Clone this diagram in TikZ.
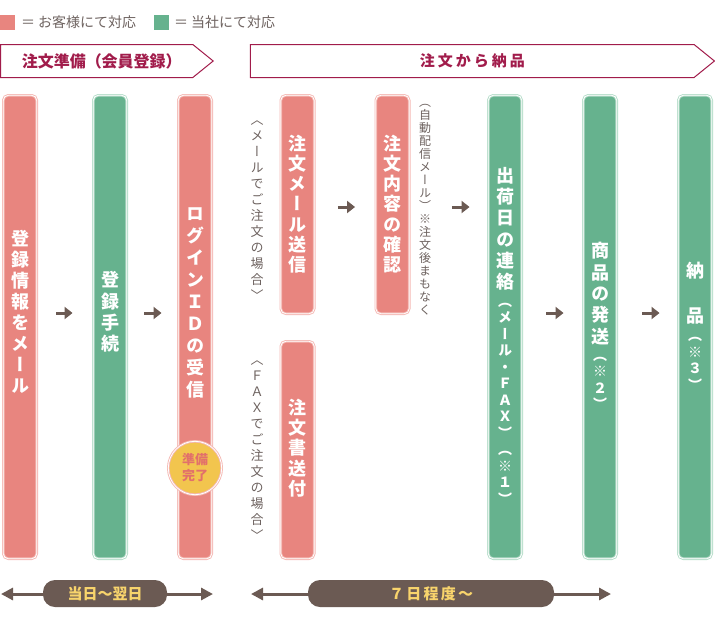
\documentclass[tikz,border=0pt]{standalone}
\usepackage{fontspec}
\setmainfont{Noto Sans CJK JP}
\newfontfamily\tatefont[RawFeature=+vert]{Noto Sans CJK JP}
\usetikzlibrary{arrows.meta,shapes.symbols}

\definecolor{barpink}{HTML}{E8857F}
\definecolor{pinkedge}{HTML}{F4B9B4}
\definecolor{bargreen}{HTML}{66B28E}
\definecolor{greenedge}{HTML}{B6DDCA}
\definecolor{arrowbrown}{HTML}{6B5A53}
\definecolor{notegray}{HTML}{6D625F}
\definecolor{phasered}{HTML}{A11C4B}
\definecolor{readygold}{HTML}{F2C54E}
\definecolor{readytext}{HTML}{E2706B}
\definecolor{pilltext}{HTML}{F8D46C}

% vertical text: one cell per character
\ExplSyntaxOn
\dim_new:N \l_tate_pitch_dim
\NewDocumentCommand \tate { O{18} m m }
  {
    \vbox:n
      {
        \offinterlineskip
        \tatefont \fontsize{#1}{#1}\selectfont
        \XeTeXuseglyphmetrics = 0 \scan_stop:
        \dim_set:Nn \l_tate_pitch_dim {#2}
        \tl_map_inline:nn {#3}
          {
            \vbox_to_ht:nn { \l_tate_pitch_dim }
              { \vss \hbox_to_wd:nn { 22pt } { \hss ##1 \hss } \vss }
          }
      }
  }
\ExplSyntaxOff

\tikzset{
  bar/.style={rounded corners=5pt, line width=0.9pt, double distance=0.8pt,
    minimum width=33.4pt, inner sep=0pt},
  pinkbar/.style={bar, fill=barpink, draw=pinkedge, double=white},
  greenbar/.style={bar, fill=bargreen, draw=greenedge, double=white},
  bartext/.style={text=white, font=\bfseries, inner sep=0pt},
  note/.style={text=notegray, inner sep=0pt},
  flow/.style={draw=arrowbrown, line width=3pt, -{Triangle[length=8pt,width=12pt]}},
  span/.style={draw=arrowbrown, line width=3pt,
    {Triangle[length=12pt,width=12pt]}-{Triangle[length=12pt,width=12pt]}},
  pill/.style={fill=arrowbrown, rounded corners=12pt, minimum height=27pt,
    inner sep=0pt, text=pilltext, font=\bfseries\fontsize{15}{15}\selectfont},
  phase/.style={signal, signal to=east, signal pointer angle=78, draw=phasered,
    line width=1pt, minimum height=33pt, inner sep=0pt, text=phasered,
    font=\bfseries\fontsize{15}{15}\selectfont},
  key/.style={minimum size=15pt, inner sep=0pt},
  keytext/.style={anchor=west, text=notegray, inner sep=0pt,
    font=\fontsize{14}{14}\selectfont},
}

\begin{document}
\begin{tikzpicture}[x=1pt,y=-1pt]
    \useasboundingbox (0,0) rectangle (715,622);

    % Legend
    \node[key, fill=barpink] (keycust) at (7.5,22) {};
    \node[keytext] (keycusttxt) at (21,22) {＝\hspace{3pt}お客様にて対応};
    \node[key, fill=bargreen] (keyus) at (161.5,22) {};
    \node[keytext] (keyustxt) at (174,22) {＝\hspace{3pt}当社にて対応};

    % Phase headers
    \node[phase, minimum width=212.5pt] (prep) at (96.75,61)
        {\fontsize{16}{16}\selectfont\hspace*{10pt}注文準備（会員登録）};
    \node[phase, minimum width=464pt] (order) at (472.25,61)
        {\addfontfeature{LetterSpace=20}注文から納品};

    % Bars
    \node[pinkbar, minimum height=463.4pt] (reg) at (20,327) {};
    \node[greenbar, minimum height=463.4pt] (proc) at (110,327) {};
    \node[pinkbar, minimum height=463.4pt] (login) at (195,327) {};
    \node[pinkbar, minimum height=218.4pt] (mail) at (297.5,204.5) {};
    \node[pinkbar, minimum height=217.4pt] (fax) at (297.5,450) {};
    \node[pinkbar, minimum height=218.4pt] (confirm) at (392.5,204.5) {};
    \node[greenbar, minimum height=463.4pt] (ship) at (505,327) {};
    \node[greenbar, minimum height=463.4pt] (send) at (600,327) {};
    \node[greenbar, minimum height=463.4pt] (deliver) at (695,327) {};

    % Bar texts
    \node[bartext] (regtxt) at (20,311) {\tate{21.1pt}{登録情報をメール}};
    \node[bartext] (proctxt) at (110,311) {\tate{21.3pt}{登録手続}};
    \node[bartext] (logintxt) at (195,301) {\tate{22pt}{ログインＩＤの受信}};
    \node[bartext] (mailtxt) at (297.5,203) {\tate{20.2pt}{注文メール送信}};
    \node[bartext] (faxtxt) at (297.5,447) {\tate{20.3pt}{注文書送付}};
    \node[bartext] (confirmtxt) at (392.5,203) {\tate{20.2pt}{注文内容の確認}};
    \node[bartext] (shiptxt) at (505,335) {\vbox{\offinterlineskip
        \tate{21.3pt}{出荷日の連絡}\tate[14]{16.5pt}{（メール・ＦＡＸ）（※１）}}};
    \node[bartext] (sendtxt) at (600,325.6) {\vbox{\offinterlineskip
        \tate{21.3pt}{商品の発送}\tate[14]{16.5pt}{（※２）}}};
    \node[bartext] (delivertxt) at (695,325.5) {\vbox{\offinterlineskip
        \tate{22.5pt}{納　品}\tate[14]{16.5pt}{（※３）}}};

    % Notes beside the bars
    \node[note] (mailnote) at (257,207) {\tate[13]{16pt}{〈メールでご注文の場合〉}};
    \node[note] (faxnote) at (257,447) {\tate[13]{16pt}{〈ＦＡＸでご注文の場合〉}};
    \node[note] (autonote) at (425,205) {\tate[12]{13pt}{（自動配信メール）※注文後まもなく}};

    % Ready badge
    \node[circle, fill=readygold, draw=pinkedge, line width=0.9pt, double=white,
        double distance=0.8pt, minimum size=53.4pt, inner sep=0pt, text=readytext,
        font=\bfseries\fontsize{13}{16}\selectfont, align=center] (ready) at (195,468) {準備\\完了};

    % Flow arrows
    \coordinate (row1) at (0,313);
    \coordinate (row2) at (0,207);
    \draw[flow, shorten <=19.3pt, shorten >=20.3pt] (reg.east |- row1) -- (proc.west |- row1);
    \draw[flow, shorten <=17.3pt, shorten >=16.3pt] (proc.east |- row1) -- (login.west |- row1);
    \draw[flow, shorten <=23.3pt, shorten >=20.3pt] (mail.east |- row2) -- (confirm.west |- row2);
    \draw[flow, shorten <=42.3pt, shorten >=18.3pt] (confirm.east |- row2) -- (ship.west |- row2);
    \draw[flow, shorten <=24.3pt, shorten >=19.3pt] (ship.east |- row1) -- (send.west |- row1);
    \draw[flow, shorten <=25.3pt, shorten >=18.3pt] (send.east |- row1) -- (deliver.west |- row1);

    % Time spans
    \coordinate (t1w) at (1,594);
    \coordinate (t1e) at (213,594);
    \coordinate (t2w) at (251,594);
    \coordinate (t2e) at (611,594);
    \draw[span] (t1w) -- (t1e);
    \draw[span] (t2w) -- (t2e);
    \node[pill, minimum width=124pt] (t1) at (105,593.5) {当日〜翌日};
    \node[pill, minimum width=246pt] (t2) at (431,593.5) {\addfontfeature{LetterSpace=15}７日程度〜};
\end{tikzpicture}
\end{document}
